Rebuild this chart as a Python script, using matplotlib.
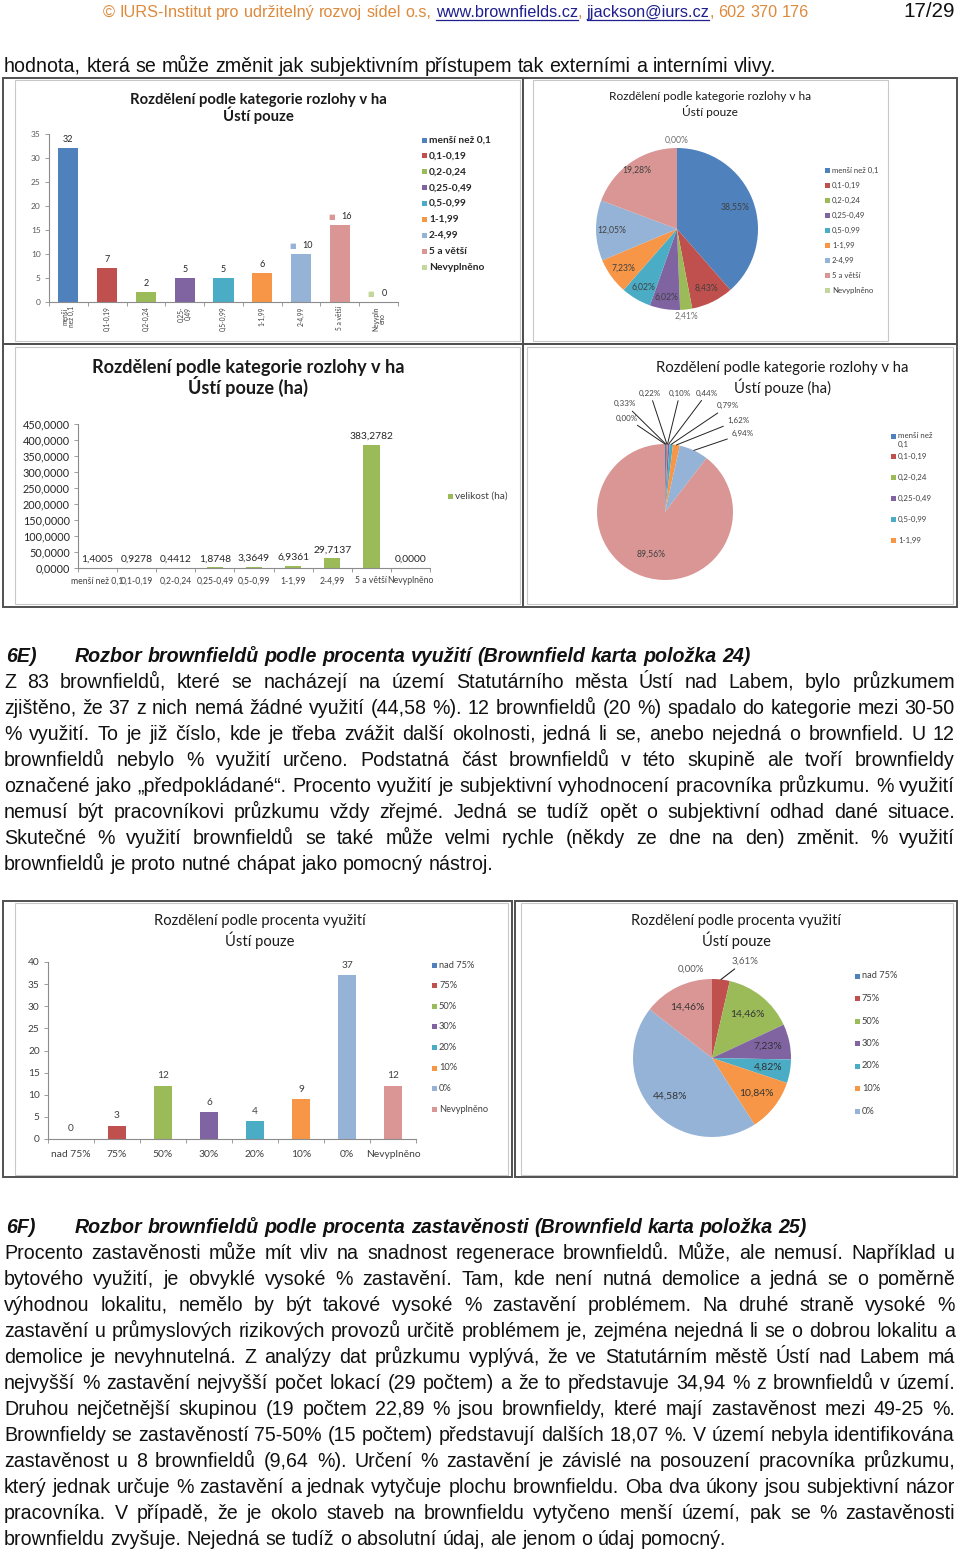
import matplotlib
matplotlib.use("Agg")
import matplotlib.pyplot as plt
import numpy as np
from matplotlib import font_manager
from matplotlib.patches import Rectangle
from matplotlib.lines import Line2D
from matplotlib.transforms import Affine2D

W, H = 960, 1552

# ---- data -------------------------------------------------------------
size_cats = ["menší než 0,1", "0,1-0,19", "0,2-0,24", "0,25-0,49", "0,5-0,99",
             "1-1,99", "2-4,99", "5 a větší", "Nevyplněno"]
size_rot_labels = ["menší\nnež 0,1", "0,1-0,19", "0,2-0,24", "0,25-\n0,49", "0,5-0,99",
                   "1-1,99", "2-4,99", "5 a větší", "Nevypln\něno"]
size_counts = [32, 7, 2, 5, 5, 6, 10, 16, 0]
size_ha = [1.4005, 0.9278, 0.4412, 1.8748, 3.3649, 6.9361, 29.7137, 383.2782, 0.0]

use_cats = ["nad 75%", "75%", "50%", "30%", "20%", "10%", "0%", "Nevyplněno"]
use_counts = [0, 3, 12, 6, 4, 9, 37, 12]

colors = ["#4F81BD", "#C0504D", "#9BBB59", "#8064A2", "#4BACC6",
          "#F79646", "#95B3D7", "#D99694", "#C3D69B"]

header_runs = [("© IURS-Institut pro udržitelný rozvoj sídel o.s, ", "#DD8A3C", False),
               ("www.brownfields.cz", "#1F1F8F", True),
               (", ", "#DD8A3C", False),
               ("jjackson@iurs.cz", "#1F1F8F", True),
               (", 602 370 176", "#DD8A3C", False)]
page_no = "17/29"
intro = "hodnota, která se může změnit jak subjektivním přístupem tak externími a interními vlivy."

head_6e = ("6E)", "Rozbor brownfieldů podle procenta využití (Brownfield karta položka 24)")
text_6e = [
    "Z 83 brownfieldů, které se nacházejí na území Statutárního města Ústí nad Labem, bylo průzkumem",
    "zjištěno, že 37 z nich nemá žádné využití (44,58 %). 12 brownfieldů (20 %) spadalo do kategorie mezi 30-50",
    "% využití. To je již číslo, kde je třeba zvážit další okolnosti, jedná li se, anebo nejedná o brownfield. U 12",
    "brownfieldů nebylo % využití určeno. Podstatná část brownfieldů v této skupině ale tvoří brownfieldy",
    "označené jako „předpokládané“. Procento využití je subjektivní vyhodnocení pracovníka průzkumu. % využití",
    "nemusí být pracovníkovi průzkumu vždy zřejmé. Jedná se tudíž opět o subjektivní odhad dané situace.",
    "Skutečné % využití brownfieldů se také může velmi rychle (někdy ze dne na den) změnit. % využití",
    "brownfieldů je proto nutné chápat jako pomocný nástroj.",
]
head_6f = ("6F)", "Rozbor brownfieldů podle procenta zastavěnosti (Brownfield karta položka 25)")
text_6f = [
    "Procento zastavěnosti může mít vliv na snadnost regenerace brownfieldů. Může, ale nemusí. Například u",
    "bytového využití, je obvyklé vysoké % zastavění. Tam, kde není nutná demolice a jedná se o poměrně",
    "výhodnou lokalitu, nemělo by být takové vysoké % zastavění problémem. Na druhé straně vysoké %",
    "zastavění u průmyslových rizikových provozů určitě problémem je, zejména nejedná li se o dobrou lokalitu a",
    "demolice je nevyhnutelná. Z analýzy dat průzkumu vyplývá, že ve Statutárním městě Ústí nad Labem má",
    "nejvyšší % zastavění nejvyšší počet lokací (29 počtem) a že to představuje 34,94 % z brownfieldů v území.",
    "Druhou nejčetnější skupinou (19 počtem 22,89 % jsou brownfieldy, které mají zastavěnost mezi 49-25 %.",
    "Brownfieldy se zastavěností 75-50% (15 počtem) představují dalších 18,07 %. V území nebyla identifikována",
    "zastavěnost u 8 brownfieldů (9,64 %). Určení % zastavění je závislé na posouzení pracovníka průzkumu,",
    "který jednak určuje % zastavění a jednak vytyčuje plochu brownfieldu. Oba dva úkony jsou subjektivní názor",
    "pracovníka. V případě, že je okolo staveb na brownfieldu vytyčeno menší území, pak se % zastavěnosti",
    "brownfieldu zvyšuje. Nejedná se tudíž o absolutní údaj, ale jenom o údaj pomocný.",
]

title_size = ["Rozdělení podle kategorie rozlohy v ha", "Ústí pouze"]
title_size_ha = ["Rozdělení podle kategorie rozlohy v ha", "Ústí pouze (ha)"]
title_use = ["Rozdělení podle procenta využití", "Ústí pouze"]


def comma(v, fmt):
    return fmt.format(v).replace(".", ",")


# ---- fonts / figure ----------------------------------------------------
names = {f.name for f in font_manager.fontManager.ttflist}
BODY = ["Liberation Sans Narrow" if "Liberation Sans Narrow" in names else "Liberation Sans",
        "DejaVu Sans"]
CH = ["Lato", "DejaVu Sans"]
plt.rcParams["font.family"] = CH

fig = plt.figure(figsize=(9.6, 15.52), dpi=100)
fig.patch.set_facecolor("white")
R = fig.canvas.get_renderer()
PX = Affine2D().scale(1 / W, -1 / H).translate(0, 1) + fig.transFigure


def txt(x, y, s, **kw):
    return fig.text(x, y, s, transform=PX, **kw)


def width(s, **kw):
    t = txt(0, 0, s, **kw)
    w = t.get_window_extent(R).width
    t.remove()
    return w


def fit(s, target, **kw):
    return 10 * target / width(s, fontsize=10, **kw)


def word(x, y, s, **kw):
    # put a word on baseline y; nudge it so Agg's pixel rounding of the glyph
    # bitmap lands every word on the same pixel row
    t = txt(x, y, s, va="baseline", **kw)
    _, h, d = R.get_text_width_height_descent(s, t.get_fontproperties(), ismath=False)
    top = h - d
    t.set_y(y - np.floor(top) + np.floor(top + d) - d)
    return t


def add_ax(x0, y0, x1, y1):
    ax = fig.add_axes([x0 / W, 1 - y1 / H, (x1 - x0) / W, (y1 - y0) / H])
    ax.patch.set_alpha(0)
    return ax


def rect(x0, y0, x1, y1, color, lw):
    fig.add_artist(Rectangle((x0, y0), x1 - x0, y1 - y0, transform=PX, fill=False,
                             edgecolor=color, linewidth=lw))


def legend(x, ys, labels, cols, fs, tc="#262626", weight="normal"):
    out = []
    for y, lab, c in zip(ys, labels, cols):
        fig.add_artist(Rectangle((x, y - 2.5), 5, 5, transform=PX, color=c, linewidth=0))
        out.append(txt(x + 7, y, lab, fontsize=fs, color=tc, weight=weight, va="center",
                       ha="left", linespacing=1.4))
    return out


def title(lines, cx, ys, target, weight="normal"):
    fs = fit(lines[0], target, weight=weight, family=CH)
    for s, y in zip(lines, ys):
        txt(cx, y, s, fontsize=fs, weight=weight, ha="center", va="center", color="#1a1a1a")


def style_bar(ax, ysize, ycolor, xsize, xcolor, xpad):
    for s in ("top", "right"):
        ax.spines[s].set_visible(False)
    for s in ("left", "bottom"):
        ax.spines[s].set_color("#8C8C8C")
        ax.spines[s].set_linewidth(0.8)
    ax.tick_params(axis="y", length=3, width=0.6, color="#8C8C8C",
                   labelsize=ysize, labelcolor=ycolor, pad=3)
    ax.tick_params(axis="x", which="major", length=0, labelsize=xsize,
                   labelcolor=xcolor, pad=xpad)
    ax.tick_params(axis="x", which="minor", length=3, width=0.6, color="#8C8C8C")


# ---- page text ---------------------------------------------------------
hsize = fit("".join(r[0] for r in header_runs), 705, family=BODY)
space_h = width("a a", fontsize=hsize, family=BODY) - width("aa", fontsize=hsize, family=BODY)
x = 103
for s, c, ul in header_runs:
    parts = s.split(" ")
    for k, p in enumerate(parts):
        if p:
            wd = width(p, fontsize=hsize, family=BODY)
            word(x, 17, p, fontsize=hsize, family=BODY, color=c)
            if ul:
                fig.add_artist(Line2D([x, x + wd], [19.5, 19.5], transform=PX, color=c, lw=0.9))
            x += wd
        if k < len(parts) - 1:
            x += space_h

bsize = fit(intro, 772, family=BODY)
space_b = width("a a", fontsize=bsize, family=BODY) - width("aa", fontsize=bsize, family=BODY)
t = word(955, 17, page_no, fontsize=bsize * 1.05, family=BODY, color="#111111")
t.set_ha("right")


def para_line(s, y, last=False, x0=4, x1=955, **kw):
    words = s.split(" ")
    ws = [width(w, fontsize=bsize, family=BODY, **kw) for w in words]
    gap = space_b if last or len(words) < 2 else (x1 - x0 - sum(ws)) / (len(words) - 1)
    xx = x0
    for w, wd in zip(words, ws):
        word(xx, y, w, fontsize=bsize, family=BODY, color="#111111", **kw)
        xx += wd + gap


para_line(intro, 72, last=True)


def section(head, lines, y0):
    word(6, y0, head[0], fontsize=bsize, family=BODY, weight="bold", style="italic",
         color="#111111")
    para_line(head[1], y0, last=True, x0=75, weight="bold", style="italic")
    for i, s in enumerate(lines):
        para_line(s, y0 + 26 * (i + 1), last=(i == len(lines) - 1))


section(head_6e, text_6e, 662)
section(head_6f, text_6f, 1233)

# ---- frames ------------------------------------------------------------
rect(15, 80, 520, 341, "#C8C8C8", 0.8)
rect(533, 80, 888, 341, "#C8C8C8", 0.8)
rect(15, 347, 520, 604, "#C8C8C8", 0.8)
rect(527, 347, 953, 604, "#C8C8C8", 0.8)
rect(3, 78, 523, 344, "#505050", 1.4)
rect(523, 78, 957, 344, "#505050", 1.4)
rect(3, 344, 523, 607, "#505050", 1.4)
rect(523, 344, 957, 607, "#505050", 1.4)
rect(15, 903, 508, 1175, "#C8C8C8", 0.8)
rect(3, 901, 512, 1177, "#505050", 1.4)
rect(521, 903, 953, 1175, "#C8C8C8", 0.8)
rect(515, 901, 957, 1177, "#505050", 1.4)

# ---- chart 1: counts by size ------------------------------------------
xi = np.arange(len(size_cats))
ax1 = add_ax(49, 134, 398, 302)
ax1.bar(xi, size_counts, width=0.52, color=colors)
ax1.set_xlim(-0.5, len(size_cats) - 0.5)
ax1.set_ylim(0, 35)
ax1.set_yticks(range(0, 36, 5))
ax1.set_xticks(xi)
ax1.set_xticklabels(size_rot_labels, rotation=90, linespacing=0.9)
ax1.set_xticks(np.arange(-0.5, len(size_cats)), minor=True)
style_bar(ax1, 6, "#595959", 4.8, "#404040", 3)
for i, v in enumerate(size_counts):
    if i >= 6:
        ax1.annotate(str(v), (i, v), xytext=(4.5, 3), textcoords="offset points",
                     ha="center", va="bottom", fontsize=6.5, color="#262626")
        ax1.annotate("■", (i, v), xytext=(-6, 3.5), textcoords="offset points",
                     ha="center", va="bottom", fontsize=5, color=colors[i],
                     family="DejaVu Sans")
    else:
        ax1.annotate(str(v), (i, v), xytext=(0, 3), textcoords="offset points",
                     ha="center", va="bottom", fontsize=6.5, color="#262626")
title(title_size, 258, [100, 115], 257, weight="bold")
legend(422, [140 + 15.9 * i for i in range(9)], size_cats, colors, 7.3, weight="bold")

# ---- chart 2: share by size -------------------------------------------
r2 = 81
ax2 = add_ax(677 - 1.25 * r2, 229 - 1.25 * r2, 677 + 1.25 * r2, 229 + 1.25 * r2)
w2, _ = ax2.pie(size_counts, colors=colors, startangle=90, counterclock=False,
                wedgeprops=dict(linewidth=0))
ax2.set_xlim(-1.25, 1.25)
ax2.set_ylim(-1.25, 1.25)
rad2 = [0.77, 0.82, 1.08, 0.85, 0.83, 0.82, 0.8, 0.88, 1.1]
tot = sum(size_counts)
for w, v, r in zip(w2, size_counts, rad2):
    a = np.deg2rad((w.theta1 + w.theta2) / 2)
    ax2.text(r * np.cos(a), r * np.sin(a), comma(v / tot * 100, "{:.2f}%"),
             ha="center", va="center", fontsize=6.2,
             color="#404040" if r < 1 else "#707070")
title(title_size, 710, [96, 111], 203)
legend(825, [170 + 15.1 * i for i in range(9)], size_cats, colors, 5.6, tc="#404040")

# ---- chart 3: hectares by size ----------------------------------------
ax3 = add_ax(78, 424, 430, 568)
ax3.bar(xi, size_ha, width=0.42, color=colors[2])
ax3.set_xlim(-0.5, len(size_cats) - 0.5)
ax3.set_ylim(0, 450)
ax3.set_yticks(range(0, 451, 50))
ax3.set_yticklabels([comma(v, "{:.4f}") for v in range(0, 451, 50)])
ax3.set_xticks(xi)
ax3.set_xticklabels(size_cats)
ax3.set_xticks(np.arange(-0.5, len(size_cats)), minor=True)
style_bar(ax3, 7.8, "#262626", 6.2, "#404040", 6)
for i, v in enumerate(size_ha):
    ax3.annotate(comma(v, "{:.4f}"), (i, v), xytext=(0, 3), textcoords="offset points",
                 ha="center", va="bottom", fontsize=7.4, color="#262626")
title(title_size_ha, 248, [367, 386], 313, weight="bold")
legend(448, [496], ["velikost (ha)"], [colors[2]], 7.2, tc="#404040")

# ---- chart 4: hectare share -------------------------------------------
r4 = 68
ax4 = add_ax(665 - 1.25 * r4, 512 - 1.25 * r4, 665 + 1.25 * r4, 512 + 1.25 * r4)
w4, _ = ax4.pie(size_ha, colors=colors, startangle=90, counterclock=False,
                wedgeprops=dict(linewidth=0))
ax4.set_xlim(-1.25, 1.25)
ax4.set_ylim(-1.25, 1.25)
tot4 = sum(size_ha)
lab_pos4 = [(-0.59, 1.59), (-0.22, 1.75), (0.22, 1.75), (0.62, 1.75), (0.93, 1.56),
            (1.08, 1.35), (1.14, 1.15), None, (-0.56, 1.38)]
for w, v, pos in zip(w4, size_ha, lab_pos4):
    a = np.deg2rad((w.theta1 + w.theta2) / 2)
    s = comma(v / tot4 * 100, "{:.2f}%")
    if pos is None:
        ax4.text(0.65 * np.cos(a), 0.65 * np.sin(a), s, ha="center", va="center",
                 fontsize=6.2, color="#404040")
    else:
        ax4.annotate(s, xy=(np.cos(a), np.sin(a)), xytext=pos, ha="center", va="center",
                     fontsize=5.8, color="#404040", annotation_clip=False,
                     arrowprops=dict(arrowstyle="-", color="#222222", lw=0.7,
                                     shrinkA=1, shrinkB=0))
title(title_size_ha, 782, [368, 387], 253)
leg4 = ["menší než\n0,1"] + size_cats[1:6]
t4 = legend(891, [436, 456, 477, 498, 519, 540], leg4, colors[:6], 5.7, tc="#404040")
t4[0].set_va("top")
t4[0].set_y(t4[0].get_position()[1] - 4.5)

# ---- chart 5: counts by use -------------------------------------------
xu = np.arange(len(use_cats))
ax5 = add_ax(48, 962, 416, 1139)
ax5.bar(xu, use_counts, width=0.4, color=colors[:8])
ax5.set_xlim(-0.5, len(use_cats) - 0.5)
ax5.set_ylim(0, 40)
ax5.set_yticks(range(0, 41, 5))
ax5.set_xticks(xu)
ax5.set_xticklabels(use_cats)
ax5.set_xticks(np.arange(-0.5, len(use_cats)), minor=True)
style_bar(ax5, 7.3, "#404040", 7.4, "#404040", 8)
for i, v in enumerate(use_counts):
    ax5.annotate(str(v), (i, v), xytext=(0, 4), textcoords="offset points",
                 ha="center", va="bottom", fontsize=7.3, color="#404040")
title(title_use, 260, [921, 940], 211)
legend(432, [965 + 20.6 * i for i in range(8)], use_cats, colors[:8], 6.7, tc="#404040")

# ---- chart 6: share by use --------------------------------------------
r6 = 79
ax6 = add_ax(712 - 1.25 * r6, 1058 - 1.25 * r6, 712 + 1.25 * r6, 1058 + 1.25 * r6)
w6, _ = ax6.pie(use_counts, colors=colors[:8], startangle=90, counterclock=False,
                wedgeprops=dict(linewidth=0))
ax6.set_xlim(-1.25, 1.25)
ax6.set_ylim(-1.25, 1.25)
tot6 = sum(use_counts)
for i, (w, v) in enumerate(zip(w6, use_counts)):
    a = np.deg2rad((w.theta1 + w.theta2) / 2)
    s = comma(v / tot6 * 100, "{:.2f}%")
    if i == 0:
        ax6.text(-0.27, 1.13, s, ha="center", va="center", fontsize=7, color="#595959")
    elif i == 1:
        ax6.annotate(s, xy=(np.cos(a), np.sin(a)), xytext=(0.42, 1.23), ha="center",
                     va="center", fontsize=7, color="#595959", annotation_clip=False,
                     arrowprops=dict(arrowstyle="-", color="#222222", lw=0.8,
                                     shrinkA=1, shrinkB=0))
    else:
        ax6.text(0.72 * np.cos(a), 0.72 * np.sin(a), s, ha="center", va="center",
                 fontsize=7.5, color="#333333")
title(title_use, 736, [921, 940], 209)
legend(855, [976 + 22.5 * i for i in range(7)], use_cats[:7], colors[:7], 6.7, tc="#404040")

fig.savefig("out.png", dpi=100, facecolor="white")
